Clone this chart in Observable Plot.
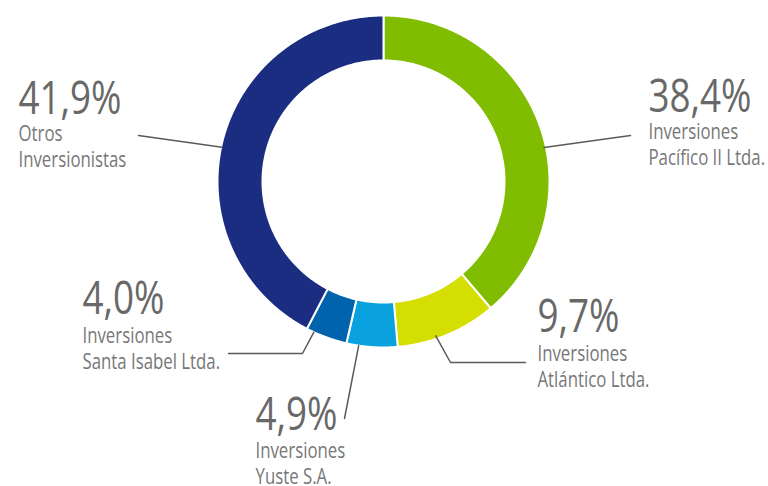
<!DOCTYPE html>
<html>
<head>
<meta charset="utf-8">
<script src="https://cdn.jsdelivr.net/npm/d3@7"></script>
<script src="https://cdn.jsdelivr.net/npm/@observablehq/plot@0.6"></script>
<style>
  html, body { margin: 0; padding: 0; background: #ffffff; }
  #chart svg { display: block; }
</style>
</head>
<body>
<div id="chart"></div>
<script>
// ---- data (clockwise from 12 o'clock) ----
const shareholders = ["Inversiones\nPacífico II Ltda.", "Inversiones\nAtlántico Ltda.", "Inversiones\nYuste S.A.", "Inversiones\nSanta Isabel Ltda.", "Otros\nInversionistas"];
const shares = [38.4, 9.7, 4.9, 4.0, 41.9];
const shareLabels = ["38,4%", "9,7%", "4,9%", "4,0%", "41,9%"];
const sliceColors = ["#80bc00", "#d4de00", "#0aa2de", "#0063ae", "#1b2d80"];

// ---- layout (pixel units of the 768x486 canvas) ----
const W = 768, H = 486;
const center = [383, 181];
const rOuter = 166, rInner = 121;
const condense = 0.8; // horizontal squeeze to mimic the condensed typeface
const labelLayout = [
  {x: 648, pctY: 111, nameY: 164, touch: {angle: 78, r: 164}, path: [[630, 135]]},
  {x: 537, pctY: 331, nameY: 386, touch: {angle: 161.3, r: 163}, path: [[450, 362], [525, 362]]},
  {x: 255, pctY: 429, nameY: 483, touch: {angle: 188.6, r: 166}, path: [[344, 418]]},
  {x: 82,  pctY: 313, nameY: 368, touch: {angle: 204.8, r: 166}, path: [[302, 353], [228, 353]]},
  {x: 18,  pctY: 113, nameY: 166, touch: {angle: 282, r: 165}, path: [[138, 135]]}
];

const table = shareholders.map((name, i) => ({name, value: shares[i], pct: shareLabels[i], color: sliceColors[i], ...labelLayout[i]}));

// ring polygons from d3.pie
const pie = d3.pie().value(d => d.value).sort(null)(table);
const polar = (deg, r) => [center[0] + r * Math.sin(deg * Math.PI / 180), center[1] - r * Math.cos(deg * Math.PI / 180)];
const ringPts = [];
pie.forEach(p => {
  const a0 = p.startAngle * 180 / Math.PI, a1 = p.endAngle * 180 / Math.PI;
  const n = Math.max(4, Math.ceil((a1 - a0) / 0.5));
  const pts = [];
  for (let k = 0; k <= n; k++) pts.push(polar(a0 + (a1 - a0) * k / n, rOuter));
  for (let k = n; k >= 0; k--) pts.push(polar(a0 + (a1 - a0) * k / n, rInner));
  pts.push(pts[0]);
  pts.forEach(([x, y]) => ringPts.push({name: p.data.name, x, y}));
});

// leader lines
const leaderPts = [];
table.forEach(d => {
  const [x0, y0] = polar(d.touch.angle, d.touch.r);
  leaderPts.push({name: d.name, x: x0, y: y0});
  d.path.forEach(([x, y]) => leaderPts.push({name: d.name, x, y}));
});

const font = "'Open Sans', 'Noto Sans', 'DejaVu Sans Condensed', sans-serif";

const chart = Plot.plot({
  width: W,
  height: H,
  margin: 0,
  x: {domain: [0, W], range: [0, W], axis: null},
  y: {domain: [0, H], range: [0, H], axis: null},
  color: {domain: shareholders, range: sliceColors},
  style: {fontFamily: font, background: "#ffffff"},
  marks: [
    Plot.line(ringPts, {x: "x", y: "y", z: "name", fill: "name", stroke: "#ffffff", strokeWidth: 2, curve: "linear"}),
    Plot.line(leaderPts, {x: "x", y: "y", z: "name", stroke: "#5a5a5a", strokeWidth: 1.5, curve: "linear"}),
    Plot.text(table, {x: "x", y: "pctY", text: "pct", textAnchor: "start", lineAnchor: "bottom", fontSize: 46, fill: "#686868", fontFamily: font}),
    Plot.text(table, {x: "x", y: "nameY", text: "name", textAnchor: "start", lineAnchor: "bottom", fontSize: 21, lineHeight: 1.22, fill: "#777777", fontFamily: font})
  ]
});
// squeeze text horizontally (condensed look)
d3.select(chart).selectAll("text").each(function () {
  const t = this.getAttribute("transform") || "";
  this.setAttribute("transform", t + ` scale(${condense},1)`);
});
document.getElementById("chart").appendChild(chart);
</script>
</body>
</html>
